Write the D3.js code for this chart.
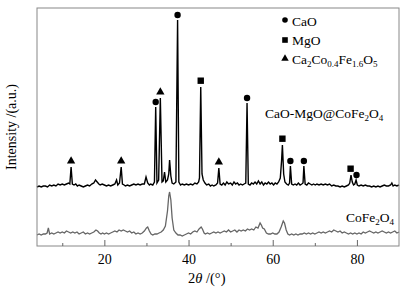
<!DOCTYPE html>
<html>
<head>
<meta charset="utf-8">
<script src="https://cdn.jsdelivr.net/npm/d3@7"></script>
<style>
  body { margin: 0; background: #fff; }
  text { font-family: "Liberation Serif", "Times New Roman", serif; }
</style>
</head>
<body>
<div id="chart"></div>
<script>
// XRD scans: [2theta, intensity (a.u.)]
var compositeScan = [
  [4,59],[4.5,60],[5,59],[5.5,60],[6,60],[6.5,59],[7,61],[7.5,60],[8,61],[8.5,60],[9,62],[9.5,61],
  [10,62],[10.5,61],[11,62],[11.5,63],[11.8,62],[12.1,79],[12.4,62],[12.8,61],[13.2,62],[13.6,60],
  [14,61],[14.5,60],[15,59],[15.5,60],[16,61],[16.5,60],[17,62],[17.5,63],[17.9,66],[18.3,64],
  [18.7,62],[19,61],[19.5,62],[20,61],[20.5,60],[21,61],[21.5,60],[22,61],[22.5,62],[22.9,66],
  [23.2,61],[23.6,63],[24,79],[24.3,62],[24.7,61],[25,60],[25.5,61],[26,60],[26.5,61],[27,62],
  [27.5,61],[28,62],[28.5,61],[29,62],[29.5,62],[29.9,69],[30.3,63],[30.7,61],[31,62],[31.5,61],
  [31.9,64],[32.2,139],[32.5,63],[32.9,66],[33.3,148],[33.7,64],[34,65],[34.3,74],[34.6,64],
  [35,66],[35.3,72],[35.5,86],[35.8,70],[36.1,63],[36.5,62],[37,64],[37.4,226],[37.7,64],[38.1,61],
  [38.5,62],[39,61],[39.5,62],[40,61],[40.5,62],[41,61],[41.5,63],[42,62],[42.4,64],[42.6,68],
  [42.9,159],[43.2,72],[43.5,66],[43.9,63],[44.3,61],[44.8,62],[45.2,60],[45.6,61],[46,60],
  [46.5,61],[46.9,63],[47.2,78],[47.5,62],[47.9,61],[48.3,63],[48.7,61],[49.1,64],[49.5,62],
  [50,63],[50.4,61],[50.8,64],[51.2,62],[51.6,63],[52,61],[52.4,62],[52.8,61],[53.2,62],[53.6,63],
  [53.9,143],[54.2,62],[54.6,61],[55,63],[55.4,62],[55.8,64],[56.2,62],[56.6,65],[57,62],[57.4,64],
  [57.8,61],[58.2,63],[58.6,62],[59,64],[59.4,62],[59.8,63],[60.2,61],[60.6,63],[61,62],[61.4,64],
  [61.8,68],[62.1,85],[62.3,101],[62.6,72],[62.9,64],[63.3,62],[63.7,61],[64,63],[64.2,80],
  [64.5,62],[64.9,61],[65.3,62],[65.7,61],[66.1,63],[66.5,61],[66.9,62],[67.2,63],[67.4,80],
  [67.7,62],[68.1,61],[68.5,63],[68.9,62],[69.3,61],[69.7,62],[70.1,61],[70.5,62],[71,61],
  [71.5,62],[72,61],[72.5,62],[73,61],[73.5,62],[74,60],[74.5,61],[75,60],[75.5,60],[76,59],
  [76.5,60],[77,59],[77.5,60],[78,61],[78.3,63],[78.6,71],[78.9,64],[79.2,61],[79.5,62],[79.8,66],
  [80.1,61],[80.5,60],[81,61],[81.5,60],[82,61],[82.5,60],[83,60],[83.5,59],[84,60],[84.5,59],
  [85,60],[85.5,59],[86,60],[86.5,61],[87,60],[87.5,60],[88,61],[88.3,63],[88.6,60],[89,61],
  [89.5,60],[90,61]
];

var ferriteScan = [
  [4,11],[4.5,12],[5,11],[5.5,12],[6,12],[6.4,13],[6.7,18],[7,12],[7.5,13],[8,12],[8.5,13],[9,14],
  [9.5,13],[10,14],[10.5,13],[11,15],[11.5,14],[12,13],[12.5,14],[13,13],[13.5,14],[14,12],
  [14.5,13],[15,14],[15.5,12],[16,13],[16.5,12],[17,13],[17.5,14],[18,16],[18.4,15],[18.8,13],
  [19.2,12],[19.6,13],[20,12],[20.5,13],[21,12],[21.5,13],[22,14],[22.5,15],[23,14],[23.5,16],
  [24,15],[24.5,16],[25,15],[25.5,14],[26,15],[26.5,13],[27,14],[27.5,12],[28,13],[28.5,12],
  [29,13],[29.5,15],[30,18],[30.3,19],[30.7,15],[31.1,12],[31.5,11],[32,12],[32.5,12],[33,13],
  [33.5,14],[34,16],[34.5,20],[35,35],[35.3,50],[35.5,54],[35.8,46],[36.1,28],[36.5,16],[37,13],
  [37.5,11],[38,11],[38.5,10],[39,11],[39.5,12],[40,13],[40.5,12],[41,14],[41.5,15],[42,14],
  [42.5,17],[43,19],[43.3,17],[43.7,13],[44,12],[44.5,13],[45,12],[45.5,13],[46,14],[46.5,13],
  [47,14],[47.5,13],[48,14],[48.5,15],[49,14],[49.5,16],[50,14],[50.5,15],[51,16],[51.5,14],
  [52,16],[52.5,15],[53,16],[53.5,15],[54,17],[54.5,16],[55,17],[55.5,16],[56,19],[56.5,18],
  [57,23],[57.3,21],[57.6,18],[58,17],[58.5,13],[59,12],[59.5,12],[60,13],[60.5,12],[61,12],
  [61.5,14],[62,19],[62.5,25],[62.8,23],[63.2,16],[63.6,12],[64,11],[64.5,12],[65,11],[65.5,12],
  [66,11],[66.5,12],[67,12],[67.5,13],[68,12],[68.5,13],[69,12],[69.5,13],[70,12],[70.5,13],
  [71,14],[71.5,13],[72,14],[72.5,13],[73,14],[73.5,15],[74,14],[74.5,16],[75,15],[75.5,14],
  [76,15],[76.5,13],[77,14],[77.5,13],[78,12],[78.5,13],[79,12],[79.5,13],[80,12],[80.5,13],
  [81,12],[81.5,14],[82,13],[82.5,14],[83,15],[83.5,14],[84,13],[84.5,14],[85,13],[85.5,14],
  [86,15],[86.5,14],[87,13],[87.5,14],[88,13],[88.5,14],[89,15],[89.5,13],[90,14]
];

// phase markers: [2theta, peak intensity]
var caoPeaks = [[32.2,139],[37.4,226],[53.9,143],[64.2,80],[67.4,80],[79.9,66]];
var mgoPeaks = [[42.9,159],[62.3,101],[78.5,71]];
var ferritePhasePeaks = [[12.1,79],[24,79],[33.3,148],[47.2,78]];

var majorTicks = [20, 40, 60, 80];
var minorTicks = [10, 30, 50, 70];

var margin = {top: 8, right: 13, bottom: 45, left: 37},
    width = 412 - margin.left - margin.right,
    height = 291 - margin.top - margin.bottom;

var svg = d3.select("#chart")
  .append("svg")
    .attr("width", 412)
    .attr("height", 291)
  .append("g")
    .attr("transform", "translate(" + margin.left + "," + margin.top + ")");

var x = d3.scaleLinear().domain([4, 90]).range([0, width]);
var y = d3.scaleLinear().domain([0, 238]).range([height, 0]);

var line = d3.line()
  .x(function(d) { return x(d[0]); })
  .y(function(d) { return y(d[1]); });

svg.append("path")
  .datum(ferriteScan)
  .attr("fill", "none")
  .attr("stroke", "#666")
  .attr("stroke-width", 1.3)
  .attr("d", line);

svg.append("path")
  .datum(compositeScan)
  .attr("fill", "none")
  .attr("stroke", "#000")
  .attr("stroke-width", 1.4)
  .attr("d", line);

// frame
svg.append("rect")
  .attr("width", width)
  .attr("height", height)
  .attr("fill", "none")
  .attr("stroke", "#888")
  .attr("stroke-width", 1);

var xAxis = svg.append("g")
  .attr("transform", "translate(0," + height + ")")
  .call(d3.axisBottom(x).tickValues(majorTicks).tickSize(-6).tickPadding(8))
  .style("font-size", "14px");
xAxis.select(".domain").remove();
xAxis.selectAll("line").attr("stroke", "#666");
xAxis.selectAll("text").attr("fill", "#000").style("font-family", "Liberation Serif");

var xMinor = svg.append("g")
  .attr("transform", "translate(0," + height + ")")
  .call(d3.axisBottom(x).tickValues(minorTicks).tickSize(-3).tickFormat(""));
xMinor.select(".domain").remove();
xMinor.selectAll("line").attr("stroke", "#666");

// peak markers
var sym = svg.append("g").attr("fill", "#000");
sym.selectAll(".cao").data(caoPeaks).enter().append("circle")
  .attr("cx", function(d) { return x(d[0]); })
  .attr("cy", function(d) { return y(d[1]) - 5; })
  .attr("r", 3.2);
sym.selectAll(".mgo").data(mgoPeaks).enter().append("rect")
  .attr("x", function(d) { return x(d[0]) - 3.2; })
  .attr("y", function(d) { return y(d[1]) - 9.5; })
  .attr("width", 6.4)
  .attr("height", 6.4);
sym.selectAll(".ccf").data(ferritePhasePeaks).enter().append("path")
  .attr("transform", function(d) { return "translate(" + x(d[0]) + "," + (y(d[1]) - 6) + ")"; })
  .attr("d", d3.symbol().type(d3.symbolTriangle).size(30));

// legend
var legend = svg.append("g").attr("transform", "translate(248,0)");
legend.append("circle").attr("cx", 0).attr("cy", 12).attr("r", 2.8);
legend.append("rect").attr("x", -2.8).attr("y", 29.2).attr("width", 5.6).attr("height", 5.6);
legend.append("path").attr("transform", "translate(0,50.5)")
  .attr("d", d3.symbol().type(d3.symbolTriangle).size(24));

function addLabel(g, tx, ty, parts) {
  var t = g.append("text").attr("x", tx).attr("y", ty)
    .style("font-size", "13.5px").attr("fill", "#000");
  parts.forEach(function(p) {
    var s = t.append("tspan").text(p[0]);
    if (p[1]) s.attr("dy", 3).style("font-size", "9px");
    else if (p[2]) s.attr("dy", -3);
  });
  return t;
}
addLabel(legend, 7, 18, [["CaO"]]);
addLabel(legend, 7, 37, [["MgO"]]);
addLabel(legend, 7, 56, [["Ca"], ["2", 1], ["Co", 0, 1], ["0.4", 1], ["Fe", 0, 1], ["1.6", 1], ["O", 0, 1], ["5", 1]]);

addLabel(svg, 228, 110, [["CaO-MgO@CoFe"], ["2", 1], ["O", 0, 1], ["4", 1]]);
addLabel(svg, 309, 214, [["CoFe"], ["2", 1], ["O", 0, 1], ["4", 1]]);

// axis titles
var xt = svg.append("text")
  .attr("x", 151).attr("y", 275)
  .style("font-size", "14.5px").attr("fill", "#000");
xt.append("tspan").text("2");
xt.append("tspan").style("font-style", "italic").text("θ");
xt.append("tspan").text(" /(°)");

svg.append("text")
  .attr("transform", "translate(-21," + height / 2 + ") rotate(-90)")
  .attr("text-anchor", "middle")
  .style("font-size", "14px")
  .attr("fill", "#000")
  .text("Intensity /(a.u.)");
</script>
</body>
</html>
